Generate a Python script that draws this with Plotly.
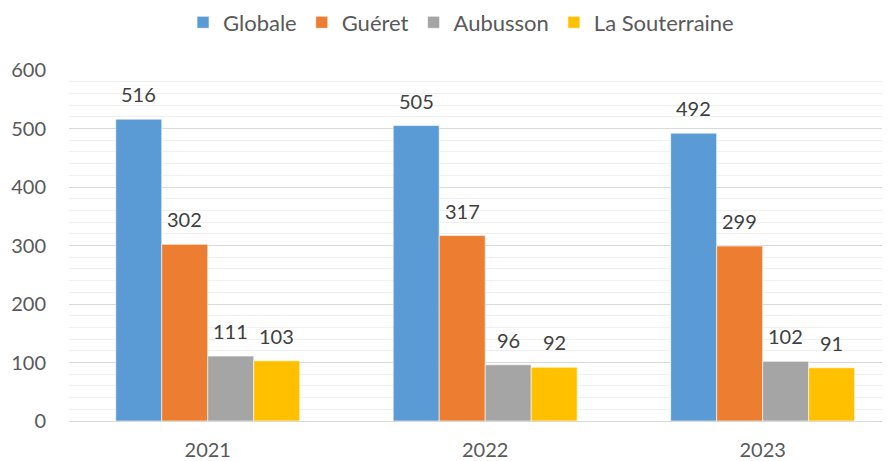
import plotly.graph_objects as go

years = ["2021", "2022", "2023"]
series_names = ["Globale", "Guéret", "Aubusson", "La Souterraine"]
globale = [516, 505, 492]
gueret = [302, 317, 299]
aubusson = [111, 96, 102]
souterraine = [103, 92, 91]
y_ticks = [0, 100, 200, 300, 400, 500, 600]

colors = ["#5B9BD5", "#ED7D31", "#A5A5A5", "#FFC000"]
values = [globale, gueret, aubusson, souterraine]
FONT = "Lato, Open Sans, sans-serif"
FS = 20

fig = go.Figure()
for name, vals, c in zip(series_names, values, colors):
    fig.add_trace(go.Bar(name=name, x=list(range(len(years))), y=vals,
                         marker=dict(color=c, line=dict(width=0.6, color="white"))))

bar_px = 46
annotations = []
for i, vals in enumerate(values):
    for j, v in enumerate(vals):
        annotations.append(dict(x=j, y=v, xref="x", yref="y", text=str(v), showarrow=False,
                                xshift=(i - 1.5) * bar_px, yshift=25, yanchor="middle",
                                font=dict(family=FONT, size=FS, color="#404040")))

fig.update_layout(
    width=882, height=453,
    margin=dict(l=61, r=0, t=62, b=40),
    plot_bgcolor="white", paper_bgcolor="white",
    barmode="group", bargap=0.337, bargroupgap=0,
    font=dict(family=FONT, size=FS, color="#595959"),
    legend=dict(orientation="h", x=0.4775, xanchor="center", y=0.968, yref="container", yanchor="middle",
                font=dict(family=FONT, size=22, color="#595959"), itemwidth=30, tracegroupgap=0),
    annotations=annotations,
    showlegend=True,
)
fig.update_xaxes(range=[-0.5, 2.459], tickvals=list(range(len(years))), ticktext=years,
                 showgrid=False, showline=True, linecolor="#D9D9D9", zeroline=False,
                 linewidth=1, ticks="", ticklabelstandoff=11,
                 tickfont=dict(family=FONT, size=FS, color="#595959"))
fig.update_yaxes(range=[0, 600], tickvals=y_ticks, showgrid=True, gridcolor="#D9D9D9", gridwidth=1,
                 zeroline=False, ticks="", ticklabelstandoff=22,
                 minor=dict(dtick=20, showgrid=True, gridcolor="#F0F0F0", gridwidth=1),
                 tickfont=dict(family=FONT, size=FS, color="#595959"))

fig.write_html("out.html")
